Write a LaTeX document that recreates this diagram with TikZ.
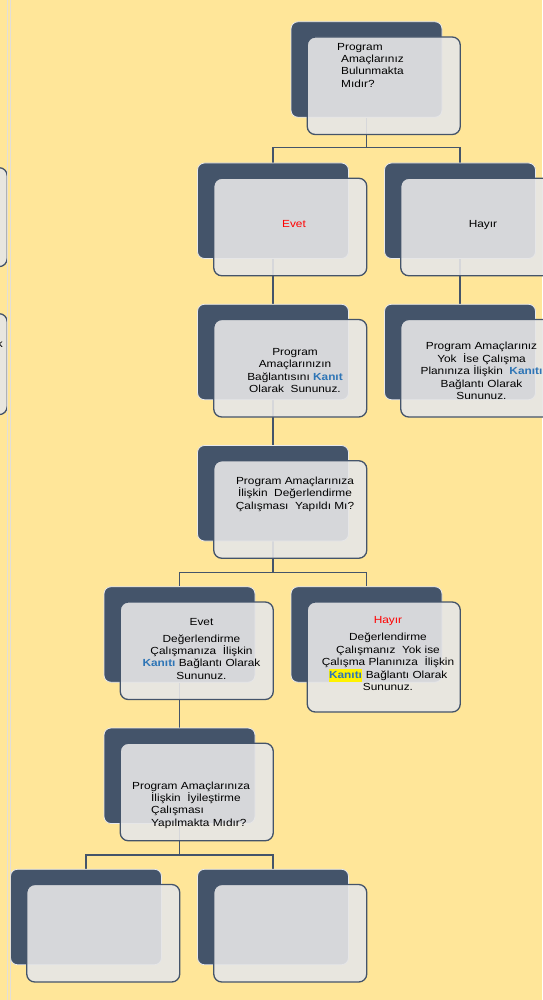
\documentclass[tikz,border=0pt]{standalone}
\usepackage{fontspec}
\setmainfont{Liberation Sans}[FakeStretch=1.15]
\usepackage{tikz}
\usetikzlibrary{calc, backgrounds}
\definecolor{themeSlate}{RGB}{68, 84, 106}
\definecolor{themeGold}{RGB}{255, 230, 153}
\definecolor{themePale}{RGB}{230, 230, 231}
\definecolor{themeLink}{RGB}{46, 117, 182}
\definecolor{themeRule}{RGB}{226, 222, 216}
\newcommand{\Kanit}[1]{\textbf{\textcolor{themeLink}{#1}}}
\newcommand{\Marker}[1]{{\setlength{\fboxsep}{0.5pt}\colorbox{yellow}{\strut#1}}}

\begin{document}
\begin{tikzpicture}[x=1pt, y=-1pt,
        back/.style={fill=themeSlate, draw=white!88!themeSlate, line width=0.8pt, rounded corners=7pt, minimum width=151pt, minimum height=95.5pt, inner sep=0},
        front/.style={fill=themePale, fill opacity=0.9, draw=themeSlate, line width=1.3pt, rounded corners=8pt, minimum width=153pt, inner sep=0, anchor=north west},
        link/.style={draw=themeSlate, line width=1.3pt},
        txt/.style={inner sep=0, font=\fontsize{10.3}{12.4}\selectfont},
        c/.style={txt, align=center},
        l/.style={txt, align=left, anchor=west}
    ]
        \useasboundingbox (0,0) rectangle (542,1000);

        \foreach \n/\x/\y/\h in {q1/3/0/97.5, e1/2/1/97.5, h1/4/1/97.5, e2/2/2/97.5, h2/4/2/97.5, q2/2/3/97.5,
                                 e3/1/4/97.5, h3/3/4/110, q3/1/5/97.5, a1/0/6/97.5, b1/2/6/97.5} {
            \node[back] (\n_bk) at (86 + 93.5*\x, 69.5 + 141.25*\y) {};
            \node[front, minimum height=\h pt] (\n) at ($(\n_bk.north west) + (16,15)$) {};
        }

        % cut off at the left edge
        \node[front, minimum height=99pt] (lf1) at (-146.5, 167) {};
        \node[front, minimum height=101pt] (lf2) at (-146.5, 313) {};
        \node[txt, anchor=east] (lk) at (3, 343.5) {k};

        \begin{scope}[on background layer]
            \fill[themeGold] (0,0) rectangle (542,1000);
            \draw[link] (q1_bk.south) -- ++(0,30) -| (e1_bk.north);
            \draw[link] (q1_bk.south) -- ++(0,30) -| (h1_bk.north);
            \draw[link] (e1_bk.south) -- (e2_bk.north);
            \draw[link] (h1_bk.south) -- (h2_bk.north);
            \draw[link] (e2_bk.south) -- (q2_bk.north);
            \draw[link] (q2_bk.south) -- ++(0,31) -| (e3_bk.north);
            \draw[link] (q2_bk.south) -- ++(0,31) -| (h3_bk.north);
            \draw[link] (e3_bk.south) -- (q3_bk.north);
            \draw[link] (q3_bk.south) -- ++(0,31) -| (a1_bk.north);
            \draw[link] (q3_bk.south) -- ++(0,31) -| (b1_bk.north);
        \end{scope}

        \node[l] (q1t) at (337, 65.3) {Program\\\hspace*{4pt}Amaçlarınız\\\hspace*{4pt}Bulunmakta\\\hspace*{4pt}Mıdır?};
        \node[c, text=red] (e1t) at (294, 224) {Evet};
        \node[c] (h1t) at (483, 225) {Hayır};
        \node[c] (e2t) at (295, 370.4) {Program\\Amaçlarınızın\\Bağlantısını \Kanit{Kanıt}\\Olarak\ \ Sununuz.};
        \node[c] (h2t) at (481.5, 371) {Program Amaçlarınız\\Yok\ \ İse Çalışma\\Planınıza İlişkin\ \ \Kanit{Kanıtı}\\Bağlantı Olarak\\Sununuz.};
        \node[c] (q2t) at (295, 494.2) {Program Amaçlarınıza\\İlişkin\ \ Değerlendirme\\Çalışması\ \ Yapıldı Mı?};
        \node[c] (e3t) at (201.5, 648.7) {Evet\\[4.5pt]Değerlendirme\\Çalışmanıza\ \ İlişkin\\\Kanit{Kanıtı} Bağlantı Olarak\\Sununuz.};
        \node[c] (h3t) at (388, 653.7) {\textcolor{red}{Hayır}\\[4.5pt]Değerlendirme\\Çalışmanız\ \ Yok ise\\Çalışma Planınıza\ \ İlişkin\\\Marker{\Kanit{Kanıtı}} Bağlantı Olarak\\Sununuz.};
        \node[l] (q3t) at (132, 805) {Program Amaçlarınıza\\\hspace*{19pt}İlişkin\ \ İyileştirme\\\hspace*{19pt}Çalışması\\\hspace*{19pt}Yapılmakta Mıdır?};

        \draw[themeRule, line width=1.6pt] (7.5,0) -- (7.5,1000);
        \draw[themeRule, line width=1.6pt] (10.3,0) -- (10.3,1000);
    \end{tikzpicture}
\end{document}
